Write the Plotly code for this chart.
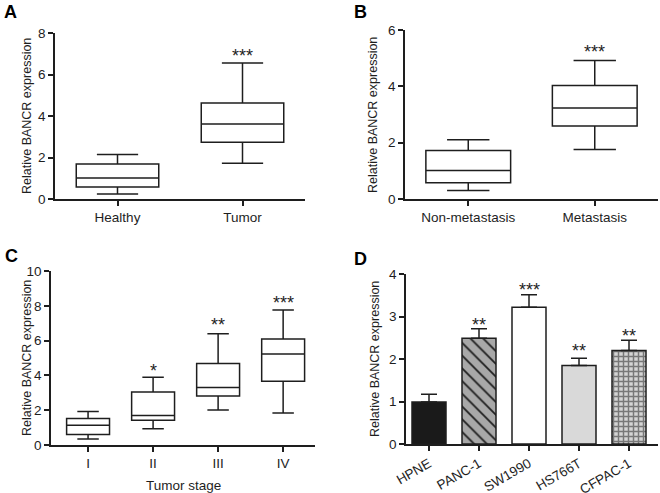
import plotly.graph_objects as go

W, H = 660, 493

# ---------------- data ----------------
a_cats = ["Healthy", "Tumor"]
a_low = [0.24, 1.72]
a_q1 = [0.58, 2.73]
a_med = [1.01, 3.61]
a_q3 = [1.69, 4.63]
a_high = [2.14, 6.55]
a_sig = ["", "***"]
a_sig_y = [0, 7.05]

b_cats = ["Non-metastasis", "Metastasis"]
b_low = [0.30, 1.76]
b_q1 = [0.58, 2.59]
b_med = [1.01, 3.23]
b_q3 = [1.72, 4.03]
b_high = [2.10, 4.92]
b_sig = ["", "***"]
b_sig_y = [0, 5.33]

c_cats = ["I", "II", "III", "IV"]
c_low = [0.34, 0.94, 2.01, 1.84]
c_q1 = [0.61, 1.42, 2.82, 3.66]
c_med = [1.13, 1.69, 3.31, 5.23]
c_q3 = [1.52, 3.05, 4.69, 6.09]
c_high = [1.92, 3.89, 6.40, 7.76]
c_sig = ["", "*", "**", "***"]
c_sig_y = [0, 4.43, 7.07, 8.33]

d_cats = ["HPNE", "PANC-1", "SW1990", "HS766T", "CFPAC-1"]
d_vals = [0.99, 2.49, 3.22, 1.85, 2.20]
d_err = [0.18, 0.22, 0.29, 0.17, 0.24]
d_sig = ["", "**", "***", "**", "**"]
d_sig_y = [0, 2.87, 3.69, 2.26, 2.61]

# ---------------- styling ----------------
FONT = "Liberation Sans, Arial, sans-serif"
INK = "#1e1e1e"


def px_x(p):
    return p / W


def px_y(p):
    return 1 - p / H


fig = go.Figure()


def add_box(cats, low, q1, med, q3, high, xa, ya, width):
    fig.add_trace(go.Box(
        x=cats, lowerfence=low, q1=q1, median=med, q3=q3, upperfence=high,
        xaxis=xa, yaxis=ya, width=width, whiskerwidth=0.5,
        fillcolor="white", line=dict(color=INK, width=1.5),
        boxpoints=False, showlegend=False, hoverinfo="skip",
    ))


add_box(a_cats, a_low, a_q1, a_med, a_q3, a_high, "x", "y", 0.66)
add_box(b_cats, b_low, b_q1, b_med, b_q3, b_high, "x2", "y2", 0.67)
add_box(c_cats, c_low, c_q1, c_med, c_q3, c_high, "x3", "y3", 0.66)

d_colors = ["#1a1a1a", "#a8a8a8", "#ffffff", "#d9d9d9", "#d4d4d4"]
d_shapes = ["", "\\", "", "", "+"]
d_fg = ["#1a1a1a", "#1e1e1e", "#ffffff", "#d9d9d9", "#777777"]
d_size = [8, 9, 8, 8, 5]
d_solid = [0.3, 0.2, 0.3, 0.3, 0.5]
for i, c in enumerate(d_cats):
    fig.add_trace(go.Bar(
        x=[c], y=[d_vals[i]], xaxis="x4", yaxis="y4", width=0.68,
        marker=dict(color=d_colors[i], line=dict(color=INK, width=1.5),
                    pattern=dict(shape=d_shapes[i], fgcolor=d_fg[i],
                                 bgcolor=d_colors[i], size=d_size[i],
                                 solidity=d_solid[i], fillmode="replace")),
        error_y=dict(type="data", symmetric=False, array=[d_err[i]],
                     arrayminus=[0], color=INK, thickness=1.5, width=8),
        showlegend=False, hoverinfo="skip",
    ))

axis_common = dict(
    showline=True, linecolor=INK, linewidth=1.5, ticks="outside",
    ticklen=5, tickwidth=1.5, tickcolor=INK, showgrid=False, zeroline=False,
    tickfont=dict(family=FONT, size=13.5, color=INK), fixedrange=True,
    automargin=False,
)

layout = dict(
    width=W, height=H, margin=dict(l=0, r=0, t=0, b=0, autoexpand=False),
    paper_bgcolor="white", plot_bgcolor="white",
    font=dict(family=FONT, color=INK), bargap=0.3, showlegend=False,
)

# Panel A
layout["xaxis"] = dict(axis_common, domain=[px_x(55), px_x(305)], anchor="y",
                       type="category", range=[-0.5, 1.5])
layout["yaxis"] = dict(axis_common, domain=[px_y(199), px_y(33)], anchor="x",
                       range=[0, 8], tickvals=[0, 2, 4, 6, 8])
# Panel B
layout["xaxis2"] = dict(axis_common, domain=[px_x(405), px_x(658)], anchor="y2",
                        type="category", range=[-0.5, 1.5])
layout["yaxis2"] = dict(axis_common, domain=[px_y(199), px_y(30)], anchor="x2",
                        range=[0, 6], tickvals=[0, 2, 4, 6])
# Panel C
layout["xaxis3"] = dict(axis_common, domain=[px_x(51), px_x(315)], anchor="y3",
                        type="category", range=[-0.57, 3.49])
layout["yaxis3"] = dict(axis_common, domain=[px_y(445), px_y(271)], anchor="x3",
                        range=[0, 10], tickvals=[0, 2, 4, 6, 8, 10])
# Panel D
layout["xaxis4"] = dict(axis_common, domain=[px_x(406), px_x(658)], anchor="y4",
                        type="category", range=[-0.46, 4.58], tickangle=-30)
layout["yaxis4"] = dict(axis_common, domain=[px_y(444), px_y(274)], anchor="x4",
                        range=[0, 4], tickvals=[0, 1, 2, 3, 4])

fig.update_layout(**layout)

ann = []
# panel letters
for letter, x, y in [("A", 2, 12), ("B", 352, 12), ("C", 3, 256), ("D", 352, 259)]:
    ann.append(dict(text=f"<b>{letter}</b>", x=px_x(x), y=px_y(y), xref="paper",
                    yref="paper", xanchor="left", yanchor="middle", showarrow=False,
                    font=dict(family=FONT, size=18, color="black")))
# y titles
for x, y in [(27, 116), (373, 115), (27, 358), (375, 359)]:
    ann.append(dict(text="Relative BANCR expression", x=px_x(x), y=px_y(y),
                    xref="paper", yref="paper", textangle=-90, showarrow=False,
                    xanchor="center", yanchor="middle",
                    font=dict(family=FONT, size=12.5, color=INK)))
# x title C
ann.append(dict(text="Tumor stage", x=px_x(183), y=px_y(485), xref="paper",
                yref="paper", showarrow=False, xanchor="center", yanchor="middle",
                font=dict(family=FONT, size=13.5, color=INK)))
# significance stars
for cats, sig, sy, xr, yr in [(a_cats, a_sig, a_sig_y, "x", "y"),
                               (b_cats, b_sig, b_sig_y, "x2", "y2"),
                               (c_cats, c_sig, c_sig_y, "x3", "y3"),
                               (d_cats, d_sig, d_sig_y, "x4", "y4")]:
    for c, s, yv in zip(cats, sig, sy):
        if s:
            ann.append(dict(text=s, x=c, y=yv, xref=xr, yref=yr, showarrow=False,
                            xanchor="center", yanchor="middle", yshift=-3,
                            font=dict(family=FONT, size=18, color=INK)))
fig.update_layout(annotations=ann)

fig.write_html("out.html", config={"displayModeBar": False},
               post_script="document.body.style.margin='0px';")
